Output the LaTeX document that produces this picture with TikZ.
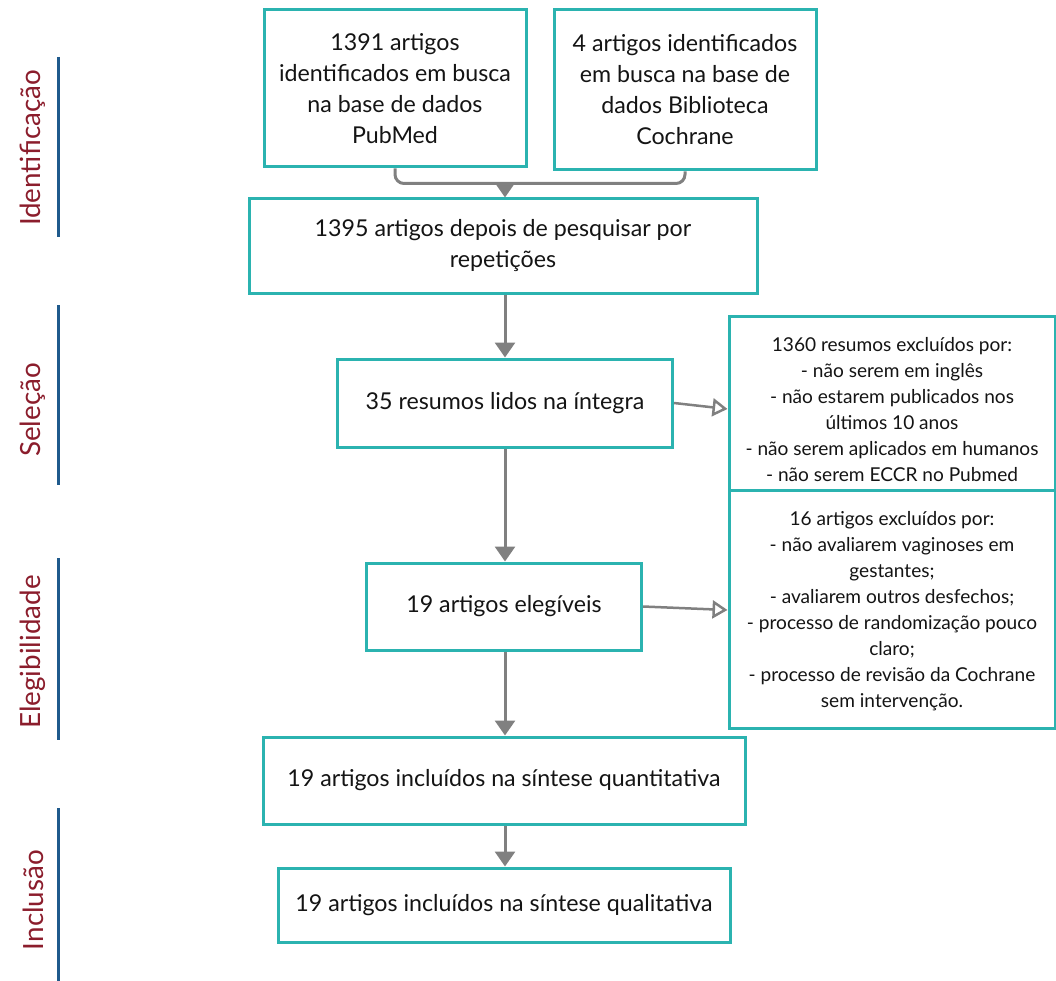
\documentclass[tikz,border=0pt]{standalone}
\usepackage{fontspec}
\setmainfont{Lato}
\usetikzlibrary{arrows.meta,calc}
\definecolor{tealb}{HTML}{2BB3B0}
\definecolor{connc}{HTML}{808080}
\definecolor{stagec}{HTML}{8B1D2C}
\definecolor{rulec}{HTML}{1F5A8C}
\begin{document}
\begin{tikzpicture}[x=1pt,y=-1pt,
 box/.style={draw=tealb, line width=3pt, fill=white, align=center, inner sep=0pt, text=black!92, font=\fontsize{23.2}{31}\selectfont},
 txt/.style={align=center, inner sep=0pt, text=black!92, font=\fontsize{19.1}{26}\selectfont},
 connline/.style={draw=connc, line width=3pt},
 arr/.style={connline, -{Triangle[width=20pt,length=15pt]}},
 oarr/.style={draw=connc, line width=2.5pt, -{Triangle[open,width=18pt,length=15pt,fill=white]}},
 stagelbl/.style={rotate=90, text=stagec, inner sep=0pt, font=\fontsize{27.8}{30}\selectfont},
 stagerule/.style={draw=rulec, line width=3pt}]
\useasboundingbox (0,0) rectangle (1056,981);

% stage labels
\node[stagelbl] (s1) at (33,148) {Identificação};
\node[stagelbl] (s2) at (33,410) {Seleção};
\node[stagelbl] (s3) at (33,652) {Elegibilidade};
\node[stagelbl] (s4) at (33,900) {Inclusão};
\draw[stagerule] (58,57) -- (58,237);
\draw[stagerule] (58,305) -- (58,485);
\draw[stagerule] (58,558) -- (58,740);
\draw[stagerule] (58,808) -- (58,981);

% boxes
\node[box, minimum width=262pt, minimum height=157pt] (A) at (395,88.5) {1391 artigos\\identificados em busca\\na base de dados\\PubMed};
\node[box, minimum width=262pt, minimum height=160pt] (B) at (685,90) {4 artigos identificados\\em busca na base de\\dados Biblioteca\\Cochrane};
\node[box, minimum width=508pt, minimum height=94pt] (C) at (503,246) {1395 artigos depois de pesquisar por\\repetições};
\node[box, minimum width=335pt, minimum height=88pt] (D) at (505,403) {35 resumos lidos na íntegra};
\node[box, minimum width=275pt, minimum height=87pt] (G) at (504,606.5) {19 artigos elegíveis};
\node[box, minimum width=482pt, minimum height=87pt] (H) at (504,780.5) {19 artigos incluídos na síntese quantitativa};
\node[box, minimum width=452pt, minimum height=74pt] (I) at (504,905) {19 artigos incluídos na síntese qualitativa};

\node[box, minimum width=326pt, minimum height=174pt] (E) at (892,403) {};
\node[txt] (Et) at (892,410) {1360 resumos excluídos por:\\- não serem em inglês\\- não estarem publicados nos\\últimos 10 anos\\- não serem aplicados em humanos\\- não serem ECCR no Pubmed};
\node[box, minimum width=326pt, minimum height=238pt] (F) at (892,609) {};
\node[txt] (Ft) at (892,611.5) {16 artigos excluídos por:\\- não avaliarem vaginoses em\\gestantes;\\- avaliarem outros desfechos;\\- processo de randomização pouco\\claro;\\- processo de revisão da Cochrane\\sem intervenção.};

% connectors
\coordinate (J) at (505,183.5);
\draw[connline, rounded corners=9pt] (A.south) |- (J) -| (B.south);
\draw[arr] (J) -- (J |- C.north);
\draw[arr] (D.north |- C.south) -- (D.north);
\draw[arr] (D.south) -- (D.south |- G.north);
\draw[arr] (D.south |- G.south) -- (D.south |- H.north);
\draw[arr] (D.south |- H.south) -- (D.south |- I.north);
\draw[oarr] (D.east) -- ($(E.west)+(0,6)$);
\draw[oarr] (G.east) -- ($(F.west)+(0,1)$);
\end{tikzpicture}
\end{document}
